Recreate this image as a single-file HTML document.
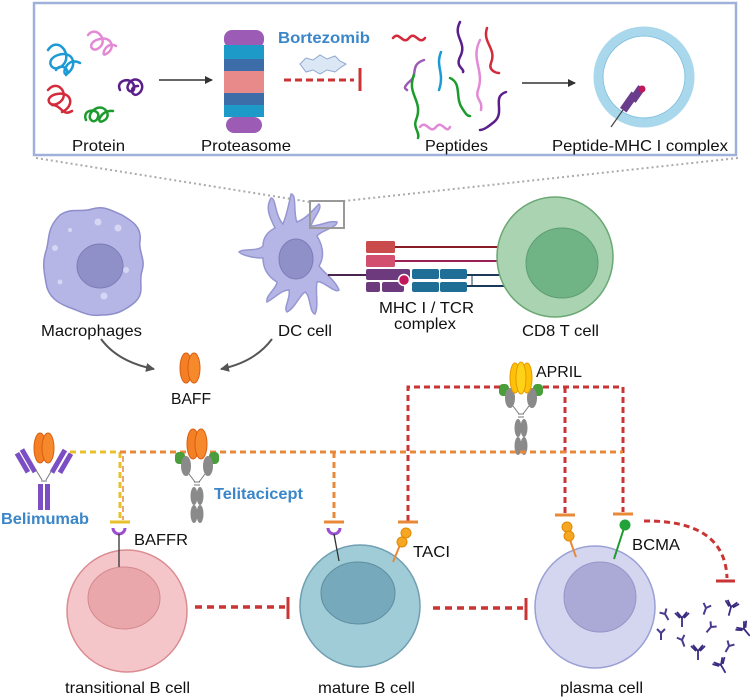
<!DOCTYPE html>
<html><head><meta charset="utf-8"><style>
html,body{margin:0;padding:0;background:#fff;}
svg{display:block;}
text{font-family:"Liberation Sans",sans-serif;font-size:16px;fill:#111;}
.b{fill:#3a86c8;font-weight:bold;}
</style></head><body>
<svg width="750" height="697" viewBox="0 0 750 697" xmlns="http://www.w3.org/2000/svg">
<defs>
<marker id="ar" markerWidth="8" markerHeight="8" refX="7" refY="4" orient="auto" markerUnits="userSpaceOnUse"><path d="M0,0 L8,4 L0,8 z" fill="#333"/></marker>
<marker id="ag" markerWidth="9" markerHeight="9" refX="8" refY="4.5" orient="auto" markerUnits="userSpaceOnUse"><path d="M0,0 L9,4.5 L0,9 z" fill="#555"/></marker>
<g id="ab"><path d="M0,0 L0,7 M0,0 L-4,-4 M0,0 L4,-4" stroke="#4b3a8c" stroke-width="2" fill="none"/></g>
<g id="abk"><path d="M0,0 L0,9 M0,0 L-5,-6 M0,0 L5,-6 M-2,0 L-7,-5 M2,0 L7,-5" stroke="#3b2b80" stroke-width="1.8" fill="none"/></g>
<g id="baff"><ellipse cx="-4" cy="0" rx="6" ry="15" fill="#f57f25" stroke="#d85e10"/><ellipse cx="4" cy="0" rx="6" ry="15" fill="#f7892d" stroke="#d85e10"/></g>
<g id="teli"><rect x="-22" y="-8" width="10" height="12" rx="4" fill="#4a9d3b"/><rect x="12" y="-8" width="10" height="12" rx="4" fill="#4a9d3b"/>
<ellipse cx="-11" cy="6" rx="5" ry="10" fill="#8a8a8a"/><ellipse cx="11" cy="6" rx="5" ry="10" fill="#8a8a8a"/>
<path d="M-8,14 L-2,22 M8,14 L2,22 M-3,22 L3,22 M-3,25 L3,25" stroke="#777" fill="none"/>
<ellipse cx="-3" cy="36" rx="3.5" ry="9" fill="#8a8a8a"/><ellipse cx="3" cy="36" rx="3.5" ry="9" fill="#8a8a8a"/>
<ellipse cx="-3" cy="54" rx="3.5" ry="9" fill="#8a8a8a"/><ellipse cx="3" cy="54" rx="3.5" ry="9" fill="#8a8a8a"/></g>
</defs>

<rect x="34" y="3" width="702" height="152" fill="#fff" stroke="#9fb1db" stroke-width="2.5"/>
<g fill="none" stroke-width="2.5" stroke-linecap="round">
<path d="M48,50 c10,-15 25,5 15,15 c-10,10 -20,-5 -5,-10 c15,-5 20,10 10,18 c-8,6 -2,-18 12,-10 M56,70 c5,-8 15,0 10,5" stroke="#1c9ad6"/>
<path d="M88,35 c8,-10 20,5 12,12 c-8,8 -15,-5 0,-8 c12,-3 16,10 6,15 c-6,4 0,-14 10,-8" stroke="#e28ad6"/>
<path d="M48,90 c10,-12 22,5 12,12 c-10,8 -18,-5 -3,-8 c15,-3 18,12 5,18 M52,105 c10,0 10,12 20,6" stroke="#d42b3b"/>
<path d="M86,120 c-5,-12 15,-12 12,-3 c-3,10 -15,0 -3,-8 c10,-6 18,8 8,12 c-8,4 -2,-12 10,-10" stroke="#1e9b2d"/>
<path d="M120,90 c-5,-10 12,-14 14,-4 c2,10 -12,5 -4,-4 c8,-8 18,5 8,12 c-6,4 -10,-8 0,-8" stroke="#5b1f8c"/>
</g>
<line x1="159" y1="80" x2="212" y2="80" stroke="#333" stroke-width="1.5" marker-end="url(#ar)"/>
<g>
<rect x="224" y="30" width="40" height="18" rx="8" fill="#9c5cb5"/>
<rect x="224" y="45" width="40" height="14" fill="#1e9ac8"/>
<rect x="224" y="59" width="40" height="12" fill="#3c6da8"/>
<rect x="224" y="71" width="40" height="22" fill="#e88a8a"/>
<rect x="224" y="93" width="40" height="12" fill="#3c6da8"/>
<rect x="224" y="105" width="40" height="12" fill="#1e9ac8"/>
<rect x="226" y="117" width="36" height="16" rx="8" fill="#9c5cb5"/>
</g>
<text x="278" y="43" class="b" textLength="92" lengthAdjust="spacingAndGlyphs">Bortezomib</text>
<polygon points="300,64 306,58 313,60 320,55 327,59 335,56 340,61 346,64 340,68 335,72 327,70 320,74 313,70 306,72" fill="#dce7f5" stroke="#8ea7d3"/>
<line x1="284" y1="80" x2="354" y2="80" stroke="#cc3333" stroke-width="3" stroke-dasharray="7,4"/>
<line x1="360" y1="68" x2="360" y2="91" stroke="#cc3333" stroke-width="3"/>
<g fill="none" stroke-width="2.5" stroke-linecap="round">
<path d="M393,38 c6,-8 10,8 16,0 c6,-8 10,8 16,0" stroke="#d42b3b"/>
<path d="M460,22 c-8,15 8,20 0,35 c-5,10 5,12 3,15" stroke="#5b1f8c"/>
<path d="M487,28 c-5,15 10,20 4,35 c-3,8 6,10 8,10" stroke="#d42b3b"/>
<path d="M480,40 c-10,20 5,30 -2,50 c-3,10 5,10 3,20" stroke="#e28ad6"/>
<path d="M424,60 c-15,5 -5,15 -15,22 c-5,5 -5,6 -2,8" stroke="#9c5cb5"/>
<path d="M441,52 c-6,15 4,20 -2,38" stroke="#1c9ad6"/>
<path d="M414,75 c-8,20 10,25 2,45 c-3,8 4,12 2,18" stroke="#1e9b2d"/>
<path d="M450,78 c12,5 5,20 12,30 c4,6 5,8 8,8" stroke="#1e9b2d"/>
<path d="M420,127 c6,-8 10,8 16,0 c6,-8 10,8 14,0" stroke="#e28ad6"/>
<path d="M506,92 c-15,5 0,20 -12,30 c-5,4 -10,8 -14,8" stroke="#5b1f8c"/>
</g>
<line x1="522" y1="83" x2="575" y2="83" stroke="#333" stroke-width="1.5" marker-end="url(#ar)"/>
<circle cx="644" cy="77" r="46" fill="#fff" stroke="#a9d8ec" stroke-width="9"/>
<circle cx="644" cy="77" r="41" fill="none" stroke="#7fc0df" stroke-width="1"/>
<line x1="611" y1="127" x2="630" y2="100" stroke="#444" stroke-width="1.2"/>
<rect x="625" y="92" width="8" height="20" fill="#6a3c8c" transform="rotate(35 629 102)"/>
<rect x="633" y="86" width="8" height="16" fill="#6a3c8c" transform="rotate(35 637 94)"/>
<circle cx="642" cy="89" r="3.5" fill="#c2185b"/>
<text x="72" y="151" textLength="53" lengthAdjust="spacingAndGlyphs">Protein</text>
<text x="201" y="151" textLength="90" lengthAdjust="spacingAndGlyphs">Proteasome</text>
<text x="425" y="151" textLength="63" lengthAdjust="spacingAndGlyphs">Peptides</text>
<text x="552" y="151" textLength="176" lengthAdjust="spacingAndGlyphs">Peptide-MHC I complex</text>

<line x1="36" y1="158" x2="310" y2="202" stroke="#aaa" stroke-width="2" stroke-dasharray="2,3"/>
<line x1="738" y1="158" x2="344" y2="201" stroke="#aaa" stroke-width="2" stroke-dasharray="2,3"/>

<path d="M60,215 c12,-8 20,-2 32,-6 c12,-4 20,2 30,6 c10,6 20,12 18,26 c-2,10 6,18 2,30 c-4,12 4,22 -8,32 c-10,8 -18,12 -32,12 c-14,2 -22,-4 -34,-8 c-10,-4 -20,-10 -22,-24 c-2,-12 -4,-20 0,-32 c4,-12 0,-22 14,-36 z" fill="#b6b6e6" stroke="#8e8ecc" stroke-width="1.5"/>
<ellipse cx="100" cy="266" rx="23" ry="22" fill="#9090c8" stroke="#7c7cb8"/>
<g fill="#d6d6f4"><circle cx="98" cy="222" r="3.5"/><circle cx="118" cy="228" r="3.5"/><circle cx="55" cy="248" r="3"/><circle cx="126" cy="270" r="3"/><circle cx="104" cy="296" r="3.5"/><circle cx="60" cy="282" r="2.5"/><circle cx="70" cy="230" r="2"/></g>
<text x="41" y="336" textLength="101" lengthAdjust="spacingAndGlyphs">Macrophages</text>

<path d="M275,228 c-5,-10 -10,-20 -4,-30 c5,0 4,18 12,26 c4,-10 6,-20 8,-30 c6,0 2,20 6,28 c10,-4 16,-12 22,-18 c4,4 -6,14 -8,22 c10,0 18,-6 26,-4 c0,6 -16,8 -20,14 c6,10 8,20 2,30 c6,8 16,14 20,24 c-4,4 -16,-10 -22,-8 c-2,10 2,24 -2,32 c-6,-2 -4,-18 -10,-22 c-6,4 -10,16 -18,20 c-4,-4 4,-14 2,-22 c-8,0 -14,8 -22,12 c-2,-6 10,-14 10,-20 c-10,-6 -14,-14 -14,-24 c-8,0 -20,-2 -24,-6 c4,-4 18,0 24,-6 c0,-8 4,-14 12,-18 z" fill="#b6b6e6" stroke="#9696d2" stroke-width="1.5"/>
<ellipse cx="296" cy="259" rx="17" ry="20" fill="#9090c8" stroke="#7c7cb8"/>
<rect x="310" y="201" width="34" height="27" fill="none" stroke="#999" stroke-width="2"/>
<text x="278" y="336" textLength="54" lengthAdjust="spacingAndGlyphs">DC cell</text>

<line x1="395" y1="247" x2="514" y2="247" stroke="#8a1c24" stroke-width="2"/>
<line x1="395" y1="261" x2="514" y2="261" stroke="#9b1e55" stroke-width="2"/>
<rect x="366" y="241" width="29" height="12" rx="1.5" fill="#c94b4b"/>
<rect x="366" y="255" width="29" height="12" rx="1.5" fill="#d24f70"/>
<line x1="328" y1="275" x2="366" y2="275" stroke="#4a2550" stroke-width="2"/>
<line x1="466" y1="275" x2="515" y2="275" stroke="#1c3a58" stroke-width="2"/>
<line x1="466" y1="286" x2="515" y2="286" stroke="#1c3a58" stroke-width="2"/>
<line x1="472" y1="275" x2="472" y2="286" stroke="#1c3a58"/>
<rect x="366" y="269" width="44" height="11" rx="2" fill="#6e3a7e"/>
<rect x="366" y="282" width="14" height="10" rx="2" fill="#6e3a7e"/>
<rect x="382" y="282" width="22" height="10" rx="2" fill="#6e3a7e"/>
<rect x="412" y="269" width="27" height="10" rx="2" fill="#1f6e96"/>
<rect x="440" y="269" width="27" height="10" rx="2" fill="#1f6e96"/>
<rect x="412" y="282" width="27" height="10" rx="2" fill="#1f6e96"/>
<rect x="440" y="282" width="27" height="10" rx="2" fill="#1f6e96"/>
<circle cx="404" cy="280" r="5.5" fill="#c2185b" stroke="#fff" stroke-width="1.5"/>
<text x="379" y="313" textLength="95" lengthAdjust="spacingAndGlyphs">MHC I / TCR</text>
<text x="394" y="329" textLength="62" lengthAdjust="spacingAndGlyphs">complex</text>

<ellipse cx="555" cy="257" rx="58" ry="60" fill="#a9d3b1" stroke="#6aa873" stroke-width="1.5"/>
<ellipse cx="562" cy="263" rx="36" ry="35" fill="#70b385" stroke="#5d9e70"/>
<text x="522" y="336" textLength="77" lengthAdjust="spacingAndGlyphs">CD8 T cell</text>

<path d="M101,339 Q118,362 154,369" fill="none" stroke="#555" stroke-width="2" marker-end="url(#ag)"/>
<path d="M272,339 Q255,362 221,369" fill="none" stroke="#555" stroke-width="2" marker-end="url(#ag)"/>
<use href="#baff" x="190" y="368"/>
<text x="171" y="404" textLength="40" lengthAdjust="spacingAndGlyphs">BAFF</text>

<use href="#teli" x="521" y="392"/>
<g><ellipse cx="515" cy="378" rx="5" ry="15" fill="#ffc107" stroke="#e59a00"/><ellipse cx="527" cy="378" rx="5" ry="15" fill="#ffc107" stroke="#e59a00"/><ellipse cx="521" cy="378" rx="5" ry="16" fill="#ffd21a" stroke="#e59a00"/></g>
<text x="536" y="377" textLength="46" lengthAdjust="spacingAndGlyphs">APRIL</text>

<g fill="none" stroke-width="3" stroke-dasharray="6,4">
<path d="M408,521 L408,387 L500,387 M543,387 L623,387 L623,512 M565,387 L565,513" stroke="#c93434"/>
<path d="M70,452 L120,452 L120,520" stroke="#e8c12a"/>
<path d="M120,452 L623,452 M334,452 L334,520" stroke="#e8893a"/>
<path d="M123,456 L123,520" stroke="#e8893a" stroke-width="1.5"/>
<path d="M644,521 Q725,520 727,578" stroke="#c93434"/>
</g>
<g stroke-width="3">
<line x1="110" y1="522" x2="130" y2="522" stroke="#e8c12a"/>
<line x1="324" y1="522" x2="344" y2="522" stroke="#e8893a"/>
<line x1="398" y1="522" x2="418" y2="522" stroke="#e8893a"/>
<line x1="555" y1="515" x2="575" y2="515" stroke="#e8893a"/>
<line x1="613" y1="514" x2="633" y2="514" stroke="#e8893a"/>
<line x1="716" y1="581" x2="735" y2="581" stroke="#c93434"/>
<line x1="288" y1="597" x2="288" y2="619" stroke="#c93434"/>
<line x1="526" y1="598" x2="526" y2="620" stroke="#c93434"/>
</g>
<g fill="none" stroke="#c93434" stroke-width="3.5" stroke-dasharray="7,5">
<line x1="195" y1="607" x2="285" y2="607"/>
<line x1="433" y1="608" x2="523" y2="608"/>
</g>

<g fill="#7b4ec4"><rect x="38" y="484" width="5" height="26"/><rect x="45" y="484" width="5" height="26"/>
<rect x="26" y="448" width="5" height="26" transform="rotate(-30 28 461)"/><rect x="20" y="452" width="5" height="22" transform="rotate(-30 22 463)"/>
<rect x="56" y="448" width="5" height="26" transform="rotate(30 58 461)"/><rect x="63" y="452" width="5" height="22" transform="rotate(30 65 463)"/></g>
<path d="M36,470 L42,480 M52,470 L46,480 M41,481 L47,481" stroke="#777" fill="none"/>
<use href="#baff" x="44" y="448"/>
<text x="1" y="524" class="b" textLength="88" lengthAdjust="spacingAndGlyphs">Belimumab</text>
<use href="#teli" x="197" y="460"/>
<use href="#baff" x="197" y="444"/>
<text x="214" y="499" class="b" textLength="89" lengthAdjust="spacingAndGlyphs">Telitacicept</text>

<ellipse cx="127" cy="611" rx="60" ry="61" fill="#f5c6c9" stroke="#d98c91" stroke-width="1.5"/>
<ellipse cx="124" cy="598" rx="36" ry="31" fill="#e9a7ab" stroke="#d3898e"/>
<ellipse cx="360" cy="606" rx="60" ry="61" fill="#a0ccd8" stroke="#6f9fb0" stroke-width="1.5"/>
<ellipse cx="358" cy="593" rx="37" ry="31" fill="#75a9bb" stroke="#5e8e9f"/>
<ellipse cx="595" cy="607" rx="60" ry="61" fill="#d3d6ee" stroke="#9a9fd6" stroke-width="1.5"/>
<ellipse cx="600" cy="597" rx="36" ry="35" fill="#aba9d6" stroke="#9795c8"/>
<path d="M113,528 a6,6 0 0 0 12,0" fill="none" stroke="#9b4fd0" stroke-width="3"/>
<line x1="119" y1="534" x2="119" y2="567" stroke="#333" stroke-width="1.3"/>
<text x="134" y="545" textLength="54" lengthAdjust="spacingAndGlyphs">BAFFR</text>
<path d="M328,528 a6,6 0 0 0 12,0" fill="none" stroke="#9b4fd0" stroke-width="3"/>
<line x1="334" y1="534" x2="339" y2="561" stroke="#333" stroke-width="1.3"/>
<line x1="400" y1="545" x2="393" y2="562" stroke="#e8893a" stroke-width="2"/>
<ellipse cx="406" cy="533" rx="5" ry="5" fill="#f5a623" stroke="#e08a00"/><ellipse cx="402" cy="542" rx="5" ry="5" fill="#f5a623" stroke="#e08a00"/>
<text x="413" y="557" textLength="37" lengthAdjust="spacingAndGlyphs">TACI</text>
<line x1="570" y1="540" x2="576" y2="557" stroke="#e8893a" stroke-width="2"/>
<ellipse cx="567" cy="527" rx="5" ry="5" fill="#f5a623" stroke="#e08a00"/><ellipse cx="569" cy="536" rx="5" ry="5" fill="#f5a623" stroke="#e08a00"/>
<line x1="624" y1="528" x2="614" y2="559" stroke="#1e9b2d" stroke-width="2"/>
<circle cx="625" cy="525" r="5.5" fill="#22a33a"/>
<text x="632" y="550" textLength="48" lengthAdjust="spacingAndGlyphs">BCMA</text>

<text x="65" y="693" textLength="125" lengthAdjust="spacingAndGlyphs">transitional B cell</text>
<text x="318" y="693" textLength="97" lengthAdjust="spacingAndGlyphs">mature B cell</text>
<text x="560" y="693" textLength="83" lengthAdjust="spacingAndGlyphs">plasma cell</text>

<use href="#ab" x="665" y="614" transform="rotate(-30 665 614)"/>
<use href="#abk" x="682" y="618"/>
<use href="#ab" x="706" y="608" transform="rotate(20 706 608)"/>
<use href="#abk" x="731" y="607" transform="rotate(15 731 607)"/>
<use href="#ab" x="661" y="633"/>
<use href="#ab" x="711" y="627" transform="rotate(40 711 627)"/>
<use href="#abk" x="744" y="629" transform="rotate(-40 744 629)"/>
<use href="#ab" x="682" y="640" transform="rotate(-20 682 640)"/>
<use href="#ab" x="729" y="646" transform="rotate(30 729 646)"/>
<use href="#abk" x="698" y="651"/>
<use href="#abk" x="721" y="665" transform="rotate(-30 721 665)"/>
</svg>
</body></html>
